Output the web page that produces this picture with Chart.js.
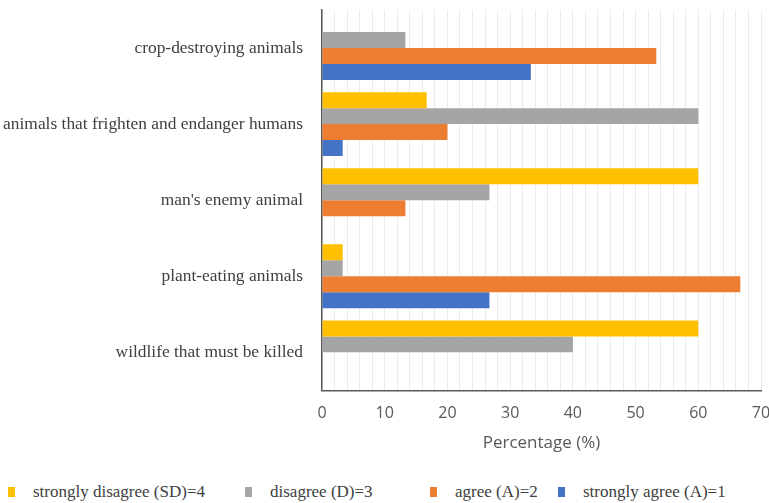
<!DOCTYPE html>
<html>
<head>
<meta charset="utf-8">
<script src="https://cdn.jsdelivr.net/npm/chart.js@4/dist/chart.umd.min.js"></script>
<style>
  html, body { margin: 0; padding: 0; background: #fff; }
  #page { position: relative; width: 769px; height: 503px; }
  #wrap { position: absolute; left: 0; top: 0; width: 769px; height: 470px; }
  #legend { position: absolute; left: 0; top: 481px; width: 769px; height: 22px; }
  .item { position: absolute; top: 0; font-family: "Liberation Serif", serif; font-size: 17px; line-height: 22px; color: #404040; white-space: nowrap; }
  .box { position: absolute; top: 6px; width: 7px; height: 10px; }
  .txt { position: absolute; left: 25px; top: 0; }
</style>
</head>
<body>
<div id="page">
  <div id="wrap"><canvas id="myChart"></canvas></div>
  <div id="legend"></div>
</div>
<script>
const categories = [
  "crop-destroying animals",
  "animals that frighten and endanger humans",
  "man's enemy animal",
  "plant-eating animals",
  "wildlife that must be killed",
];

const seriesNames = [
  "strongly disagree (SD)=4",
  "disagree (D)=3",
  "agree (A)=2",
  "strongly agree (A)=1",
];

const stronglyDisagree = [0, 16.7, 60, 3.3, 60];
const disagree = [13.3, 60, 26.7, 3.3, 40];
const agree = [53.3, 20, 13.3, 66.7, 0];
const stronglyAgree = [33.3, 3.3, 0, 26.7, 0];

const xTicks = [0, 10, 20, 30, 40, 50, 60, 70];

const colors = ["#FFC000", "#A5A5A5", "#ED7D31", "#4472C4"];
const values = [stronglyDisagree, disagree, agree, stronglyAgree];

// legend is html, items placed like in the source picture
const legendLeft = [8, 245, 430, 558];
const legendDiv = document.getElementById("legend");
seriesNames.forEach((name, i) => {
  const item = document.createElement("div");
  item.className = "item";
  item.style.left = legendLeft[i] + "px";
  item.innerHTML = `<span class="box" style="background:${colors[i]}"></span><span class="txt">${name}</span>`;
  legendDiv.appendChild(item);
});

const ctx = document.getElementById("myChart");

new Chart(ctx, {
  type: "bar",
  data: {
    labels: categories,
    datasets: seriesNames.map((name, i) => ({
      label: name,
      data: values[i],
      backgroundColor: colors[i],
      borderWidth: 0,
      barPercentage: 1,
      categoryPercentage: 0.84,
    })),
  },
  options: {
    indexAxis: "y",
    responsive: true,
    maintainAspectRatio: false,
    animation: false,
    layout: { padding: { left: 3, top: 10, right: 0, bottom: 0 } },
    plugins: {
      tooltip: { enabled: false },
      legend: { display: false },
    },
    scales: {
      x: {
        min: 0,
        max: 70,
        ticks: {
          stepSize: 2,
          autoSkip: false,
          maxRotation: 0,
          padding: 13,
          color: "#595959",
          font: { family: "Open Sans", size: 16 },
          callback: (v) => (xTicks.includes(v) ? String(v) : ""),
        },
        grid: { color: "#ebebeb", drawTicks: false },
        border: { color: "#595959", width: 1.5 },
        title: {
          display: true,
          text: "Percentage (%)",
          color: "#595959",
          font: { family: "Open Sans", size: 17 },
          padding: { top: -3, bottom: 17 },
        },
        afterFit: (scale) => {
          scale.paddingLeft = 0;
          scale.paddingRight = 8;
        },
      },
      y: {
        grid: { display: false, drawTicks: false },
        border: { color: "#595959", width: 1.5 },
        ticks: {
          padding: 19,
          color: "#404040",
          font: { family: "Liberation Serif", size: 17.4 },
        },
        afterFit: (scale) => {
          scale.width = 319;
          scale.paddingTop = 0;
          scale.paddingBottom = 0;
        },
      },
    },
  },
});
</script>
</body>
</html>
